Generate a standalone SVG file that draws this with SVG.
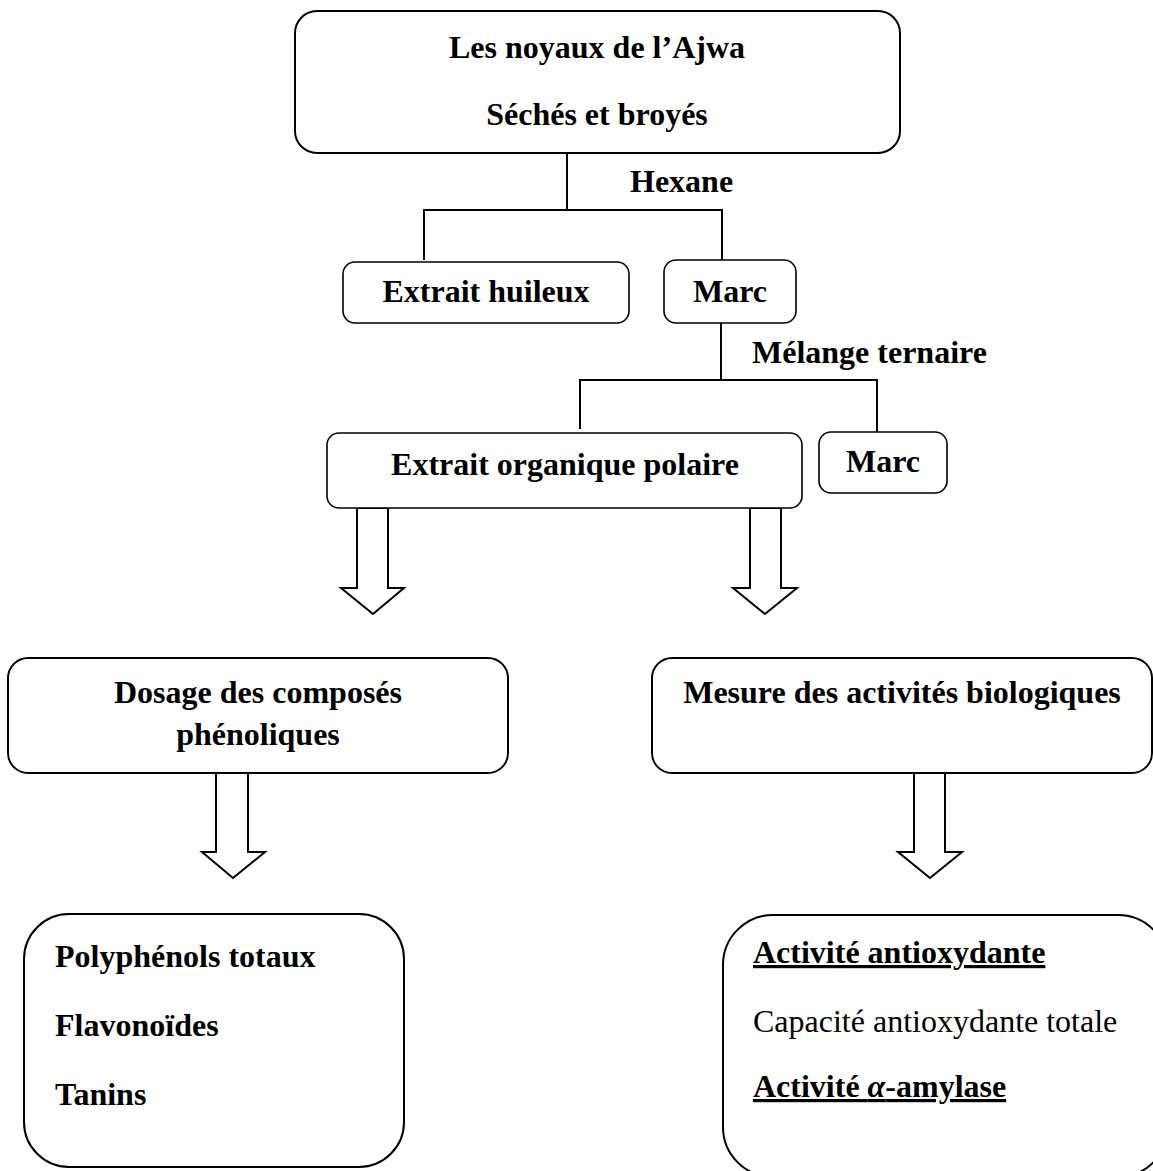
<svg xmlns="http://www.w3.org/2000/svg" width="1153" height="1171" viewBox="0 0 1153 1171">
<style>
.box{fill:#fff;stroke:#000;stroke-width:1.6}
.bbox{fill:#fff;stroke:#000;stroke-width:2}
.t{font-family:"Liberation Serif","Times New Roman",serif;font-size:32px;font-weight:bold;fill:#000}
.r{font-weight:normal}
.c{text-anchor:middle}
.ln{fill:none;stroke:#000;stroke-width:2}
.arr{fill:#fff;stroke:#000;stroke-width:2;stroke-linejoin:miter}
.u{text-decoration:underline}
</style>
<rect width="1153" height="1171" fill="#fff"/>
<g id="connectors">
<polyline class="ln" points="567,153 567,210"/>
<polyline class="ln" points="424,260 424,210 722,210 722,260"/>
<polyline class="ln" points="721,323 721,380"/>
<polyline class="ln" points="580,429 580,380 877,380 877,432"/>
<polygon class="arr" points="357,508 388,508 388,588 404,588 373,614 341,588 357,588"/>
<polygon class="arr" points="750,508 781,508 781,588 797,588 765,614 733,588 750,588"/>
<polygon class="arr" points="216,773 248,773 248,852 265,852 233,878 202,852 216,852"/>
<polygon class="arr" points="914,773 945,773 945,852 962,852 930,878 898,852 914,852"/>
</g>
<g id="node-top">
<rect class="bbox" x="295" y="11" width="605" height="142" rx="22"/>
<text class="t c" x="597" y="58">Les noyaux de l’Ajwa</text>
<text class="t c" x="597" y="125">Séchés et broyés</text>
</g>
<g id="label-hexane"><text class="t" x="630" y="192">Hexane</text></g>
<g id="node-huileux">
<rect class="box" x="343" y="262" width="286" height="61" rx="12"/>
<text class="t c" x="486" y="302">Extrait huileux</text>
</g>
<g id="node-marc1">
<rect class="box" x="664" y="260" width="132" height="63" rx="12"/>
<text class="t c" x="730" y="302">Marc</text>
</g>
<g id="label-melange"><text class="t" x="752" y="363">Mélange ternaire</text></g>
<g id="node-polaire">
<rect class="box" x="327" y="433" width="475" height="75" rx="12"/>
<text class="t c" x="565" y="475">Extrait organique polaire</text>
</g>
<g id="node-marc2">
<rect class="box" x="819" y="432" width="128" height="61" rx="12"/>
<text class="t c" x="883" y="472">Marc</text>
</g>
<g id="node-dosage">
<rect class="bbox" x="8" y="658" width="500" height="115" rx="20"/>
<text class="t c" x="258" y="703">Dosage des composés</text>
<text class="t c" x="258" y="745">phénoliques</text>
</g>
<g id="node-mesure">
<rect class="bbox" x="652" y="658" width="500" height="115" rx="20"/>
<text class="t c" x="902" y="703">Mesure des activités biologiques</text>
</g>
<g id="node-phenols">
<rect class="bbox" x="24" y="914" width="380" height="253" rx="45"/>
<text class="t" x="55" y="967">Polyphénols totaux</text>
<text class="t" x="55" y="1036">Flavonoïdes</text>
<text class="t" x="55" y="1105">Tanins</text>
</g>
<g id="node-activites">
<rect class="bbox" x="723" y="915" width="445" height="262" rx="50"/>
<text class="t u" x="753" y="963">Activité antioxydante</text>
<text class="t r" x="753" y="1032">Capacité antioxydante totale</text>
<text class="t u" x="753" y="1097">Activité <tspan font-style="italic">α</tspan>-amylase</text>
</g>
</svg>
